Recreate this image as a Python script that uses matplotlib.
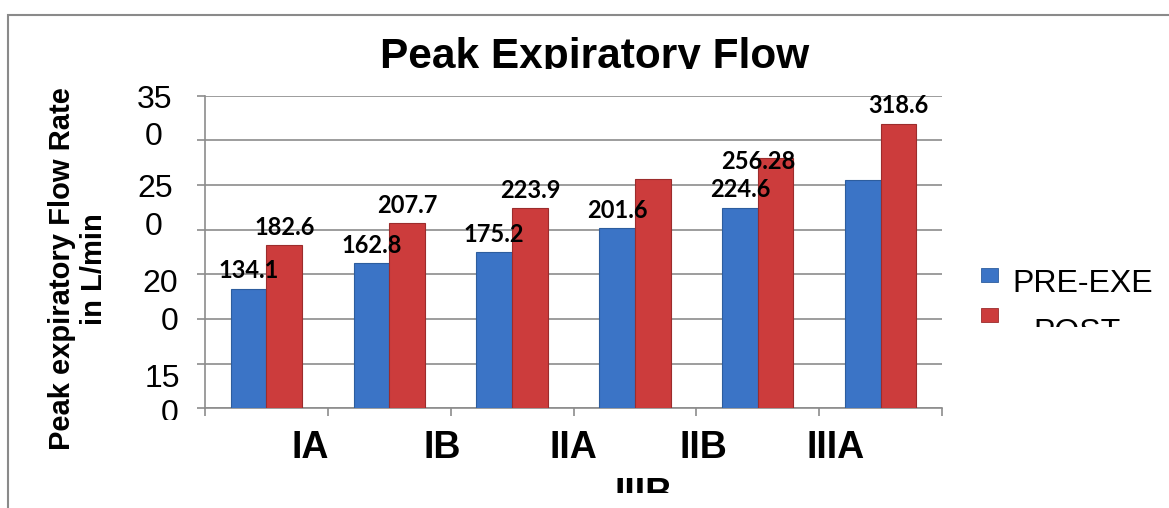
import matplotlib
matplotlib.use("Agg")
import matplotlib.pyplot as plt
import matplotlib.transforms as mtransforms
from matplotlib.patches import Rectangle
import numpy as np

categories = ["IA", "IB", "IIA", "IIB", "IIIA", "IIIB"]
pre_exe = [134.1, 162.8, 175.2, 201.6, 224.6, 255.5]
post = [182.6, 207.7, 223.9, 256.28, 280.4, 318.6]
series_names = ["PRE-EXE", "POST"]
# visible labels: (series, index, text)
pre_labels = ["134.1", "162.8", "175.2", "201.6", "224.6", None]
post_labels = ["182.6", "207.7", "223.9", "256.28", None, "318.6"]
ytick_values = [0, 50, 100, 150, 200, 250, 300, 350]
ytick_texts = ["35", "0", "25", "0", "20", "0", "15", "0"]

W, H = 1169, 508
fig = plt.figure(figsize=(W / 100, H / 100), dpi=100)
fig.patch.set_facecolor("white")

def fy(ypix):
    return (H - ypix) / H

def fx(xpix):
    return xpix / W

# outer chart border
fig.add_artist(Rectangle((fx(8), fy(600)), 2.0, fy(15) - fy(600),
                         transform=fig.transFigure, fill=False,
                         edgecolor="#8a8a8a", lw=1.5))

ax = fig.add_axes([fx(205), fy(408.3), fx(942) - fx(205), fy(95.7) - fy(408.3)])
ax.set_xlim(-0.5, len(categories) - 0.5)
ax.set_ylim(0, 350)

blue = "#3b74c6"
red = "#cc3c3c"
x = np.arange(len(categories))
w = 0.29
off = 0.145
b1 = ax.bar(x - off, pre_exe, w, color=blue, edgecolor="#2d5d9e", lw=0.8, zorder=3)
b2 = ax.bar(x + off, post, w, color=red, edgecolor="#9c2c2c", lw=0.8, zorder=3)

# grid
ax.set_yticks(ytick_values)
ax.yaxis.grid(True, color="#8c8c8c", lw=1.2, zorder=0)
ax.set_axisbelow(True)
ax.set_yticklabels([""] * len(ytick_values))
ax.set_xticks(np.arange(-0.5, len(categories), 1.0))
ax.set_xticklabels([""] * (len(categories) + 1))
ax.tick_params(axis="both", direction="out", length=6, width=1.2, color="#8c8c8c")
for s in ["top", "right"]:
    ax.spines[s].set_visible(False)
for s in ["left", "bottom"]:
    ax.spines[s].set_color("#8c8c8c")
    ax.spines[s].set_linewidth(1.2)

# data labels
lab_font = dict(family=["Lato", "DejaVu Sans"], weight="bold", fontsize=17)
for i, t in enumerate(pre_labels):
    if t:
        ax.annotate(t, (x[i] - off, pre_exe[i]), xytext=(0, 4.5), textcoords="offset points",
                    ha="center", va="bottom", zorder=5, **lab_font)
for i, t in enumerate(post_labels):
    if t:
        xpos = x[i] + off if i != 3 else x[i + 1]
        ax.annotate(t, (xpos, post[i]), xytext=(0, 4.5), textcoords="offset points",
                    ha="center", va="bottom", zorder=5, **lab_font)

# y tick texts (wrapped/misplaced as in the reference)
ylab_centers = [100, 137, 189, 227, 284, 322, 379, 414]
ylab_x = [155, 154, 155, 154, 160, 170, 162, 170]
for t, yc, xc in zip(ytick_texts, ylab_centers, ylab_x):
    tx = fig.text(fx(xc), fy(yc), t, ha="center", va="center", fontsize=23,
                  family="Liberation Sans")
    if yc > 410:
        tx.set_clip_box(mtransforms.Bbox.from_extents(0, H - 420, W, H))
        tx.set_clip_on(True)

# x category labels
xlab_pos = [0.355, 1.43, 2.497, 3.555, 4.63, 3.07]
xlab_y = [448, 448, 448, 448, 448, 493]
trans = mtransforms.blended_transform_factory(ax.transData, fig.transFigure)
for t, xp, yp in zip(categories, xlab_pos, xlab_y):
    tx = ax.text(xp, fy(yp), t, transform=trans, ha="center", va="center",
                 fontsize=27, weight="bold", family="Liberation Sans", clip_on=False)
    if yp > 480:
        tx.set_va("top")
        tx.set_position((xp, fy(477)))
        tx.set_clip_box(mtransforms.Bbox.from_extents(0, H - 493, W, H))
        tx.set_clip_on(True)

# title (clipped at bottom)
tt = fig.text(fx(595), fy(68), "Peak Expiratory Flow", ha="center", va="baseline",
              fontsize=30.5, weight="bold", family="Liberation Sans")
tt.set_clip_box(mtransforms.Bbox.from_extents(0, H - 69, W, H))
tt.set_clip_on(True)

# y axis label
fig.text(fx(78), fy(269), "Peak expiratory Flow Rate\nin L/min", rotation=90,
         ha="center", va="center", fontsize=21, weight="bold",
         family="Liberation Sans", linespacing=1.15, multialignment="center")

# legend (manual, clipped like the reference)
fig.add_artist(Rectangle((fx(981), fy(282)), fx(998) - fx(981), fy(268) - fy(282),
                         transform=fig.transFigure, facecolor=blue, edgecolor="#2d5d9e", lw=0.6))
fig.add_artist(Rectangle((fx(981), fy(322)), fx(998) - fx(981), fy(308) - fy(322),
                         transform=fig.transFigure, facecolor=red, edgecolor="#9c2c2c", lw=0.6))
fig.text(fx(1012), fy(292), series_names[0], ha="left", va="baseline", fontsize=23,
         family="Liberation Sans")
pt = fig.text(fx(1033), fy(341), series_names[1], ha="left", va="baseline", fontsize=23,
              family="Liberation Sans")
pt.set_clip_box(mtransforms.Bbox.from_extents(0, H - 327, W, H))
pt.set_clip_on(True)

fig.savefig("out.png", dpi=100)
